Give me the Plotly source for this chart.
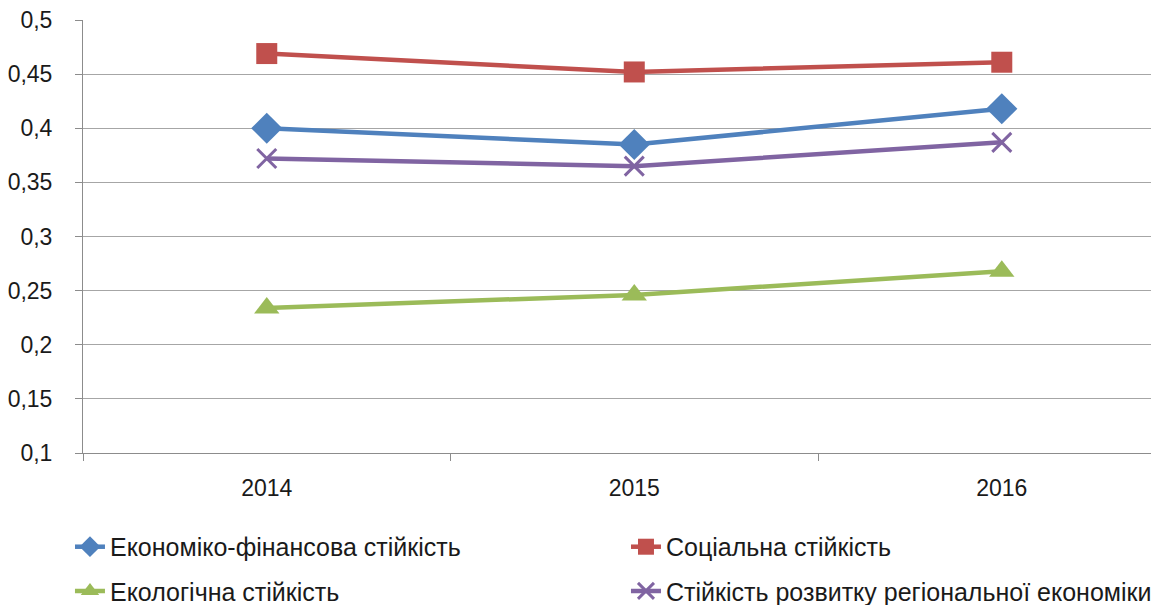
import plotly.graph_objects as go

years = ["2014", "2015", "2016"]
econ_fin = [0.400, 0.385, 0.418]
social = [0.469, 0.452, 0.461]
ecolog = [0.234, 0.246, 0.268]
regional = [0.372, 0.365, 0.387]

names = ["Економіко-фінансова стійкість", "Соціальна стійкість",
         "Екологічна стійкість", "Стійкість розвитку регіональної економіки"]
colors = ["#4F81BD", "#C0504D", "#9BBB59", "#8064A2"]
symbols = ["diamond", "square", "triangle-up", "x-thin"]
sizes = [24, 21, 22, 19]
legends = ["legend", "legend2", "legend3", "legend4"]
series = [econ_fin, social, ecolog, regional]

fig = go.Figure()
for nm, col, sym, sz, lg, vals in zip(names, colors, symbols, sizes, legends, series):
    mk = dict(symbol=sym, size=sz, color=col)
    if sym == "x-thin":
        mk["line"] = dict(color=col, width=3)
    fig.add_trace(go.Scatter(x=years, y=vals, name=nm, mode="lines+markers",
                             line=dict(color=col, width=4.5), marker=mk,
                             legend=lg))

tick_font = dict(family="Liberation Sans, Arial, sans-serif", size=23, color="#1a1a1a")
leg_font = dict(family="Liberation Sans, Arial, sans-serif", size=25, color="#1a1a1a")
leg_common = dict(orientation="h", xanchor="left", yanchor="middle",
                  font=leg_font, bgcolor="rgba(0,0,0,0)", itemwidth=30)
col1_x, col2_x = -0.0122, 0.5084
row1_y, row2_y = -0.217, -0.319
fig.update_layout(
    width=1151, height=605,
    margin=dict(l=83, r=0, t=20, b=152, autoexpand=False),
    paper_bgcolor="white", plot_bgcolor="white",
    separators=", ",
    font=tick_font,
    showlegend=True,
    legend=dict(x=col1_x, y=row1_y, **leg_common),
    legend2=dict(x=col2_x, y=row1_y, **leg_common),
    legend3=dict(x=col1_x, y=row2_y, **leg_common),
    legend4=dict(x=col2_x, y=row2_y, **leg_common),
    xaxis=dict(type="category", range=[-0.5, 2.406], tickson="boundaries",
               ticks="outside", ticklen=7, tickcolor="#8c8c8c",
               showline=True, linecolor="#8c8c8c", linewidth=1,
               showgrid=False, tickfont=tick_font, fixedrange=True,
               ticklabelstandoff=14),
    yaxis=dict(range=[0.1, 0.5], dtick=0.05, tick0=0.1,
               ticks="outside", ticklen=7, tickcolor="#8c8c8c",
               showline=True, linecolor="#8c8c8c", linewidth=1,
               showgrid=True, gridcolor="#a6a6a6", gridwidth=1,
               zeroline=False, tickfont=tick_font, ticklabelstandoff=18),
)
fig.write_html("out.html", config={"displayModeBar": False},
               post_script="document.body.style.margin='0';"
                           "document.body.style.overflow='hidden';"
                           "document.documentElement.style.overflow='hidden';")
